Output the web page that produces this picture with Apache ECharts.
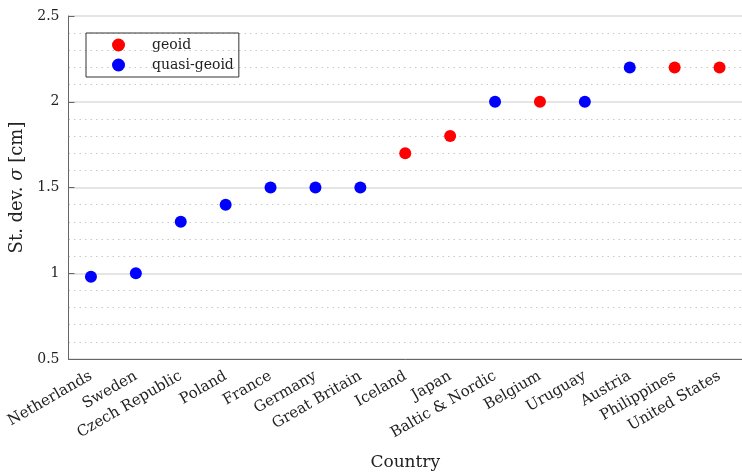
<!DOCTYPE html>
<html><head><meta charset="utf-8">
<script src="https://cdn.jsdelivr.net/npm/echarts@6/dist/echarts.min.js"></script>
<style>html,body{margin:0;padding:0;background:#fff}#c{width:742px;height:472px}</style>
</head><body><div id="c"></div>
<script>
const categories = ['Netherlands','Sweden','Czech Republic','Poland','France','Germany','Great Britain','Iceland','Japan','Baltic & Nordic','Belgium','Uruguay','Austria','Philippines','United States'];
const geoid = [null,null,null,null,null,null,null,1.7,1.8,null,2.0,null,null,2.2,2.2];
const quasiGeoid = [0.98,1.0,1.3,1.4,1.5,1.5,1.5,null,null,2.0,null,2.0,2.2,null,null];
const yTicks = [0.5,1,1.5,2,2.5];

const font = 'DejaVu Serif';
const chart = echarts.init(document.getElementById('c'));
chart.setOption({
  animation:false,
  textStyle:{fontFamily:font},
  grid:{left:68.5,right:0,top:16,bottom:113,outerBoundsMode:'none',containLabel:false},
  legend:{
    orient:'vertical', left:86, top:33,
    borderColor:'#333', borderWidth:1, borderRadius:0,
    padding:[5,5,5,26],
    itemGap:6, itemWidth:13, itemHeight:13,
    textStyle:{fontFamily:font,fontSize:14,color:'#222',padding:[0,0,0,22]},
    data:[{name:'geoid',icon:'circle'},{name:'quasi-geoid',icon:'circle'}]
  },
  xAxis:{
    type:'category', data:categories, boundaryGap:true,
    name:'Country', nameLocation:'middle', nameGap:95,
    nameTextStyle:{fontFamily:font,fontSize:17,color:'#222'},
    axisLine:{lineStyle:{color:'#666',width:1}},
    axisTick:{inside:true,length:6,alignWithLabel:true,lineStyle:{color:'#666'}},
    axisLabel:{rotate:30,fontFamily:font,fontSize:15,color:'#222',margin:16,interval:0},
    splitLine:{show:false}
  },
  yAxis:{
    type:'value', min:0.5, max:2.5, interval:0.5,
    name:'{a|St. dev. }{b|σ}{a| [cm]}', nameLocation:'middle', nameGap:39,
    nameTextStyle:{fontFamily:font,fontSize:18,color:'#222',
      rich:{a:{fontFamily:font,fontSize:18,color:'#222'},b:{fontFamily:font,fontSize:18,fontStyle:'italic',color:'#222'}}},
    axisLine:{show:true,lineStyle:{color:'#666',width:1}},
    axisTick:{show:true,inside:true,length:6,lineStyle:{color:'#666'}},
    axisLabel:{fontFamily:font,fontSize:14,color:'#222',margin:9,
      formatter:v=>yTicks.includes(v)?String(v):''},
    splitLine:{show:true,lineStyle:{color:'#dcdcdc',width:1.5}},
    minorTick:{show:false,splitNumber:5},
    minorSplitLine:{show:true,lineStyle:{color:'#c8c8c8',type:[1.5,4],width:1}}
  },
  series:[
    {name:'geoid',type:'scatter',data:geoid,symbol:'circle',symbolSize:12,itemStyle:{color:'#ff0000',opacity:1}},
    {name:'quasi-geoid',type:'scatter',data:quasiGeoid,symbol:'circle',symbolSize:12,itemStyle:{color:'#0000ff',opacity:1}}
  ]
});
</script></body></html>
